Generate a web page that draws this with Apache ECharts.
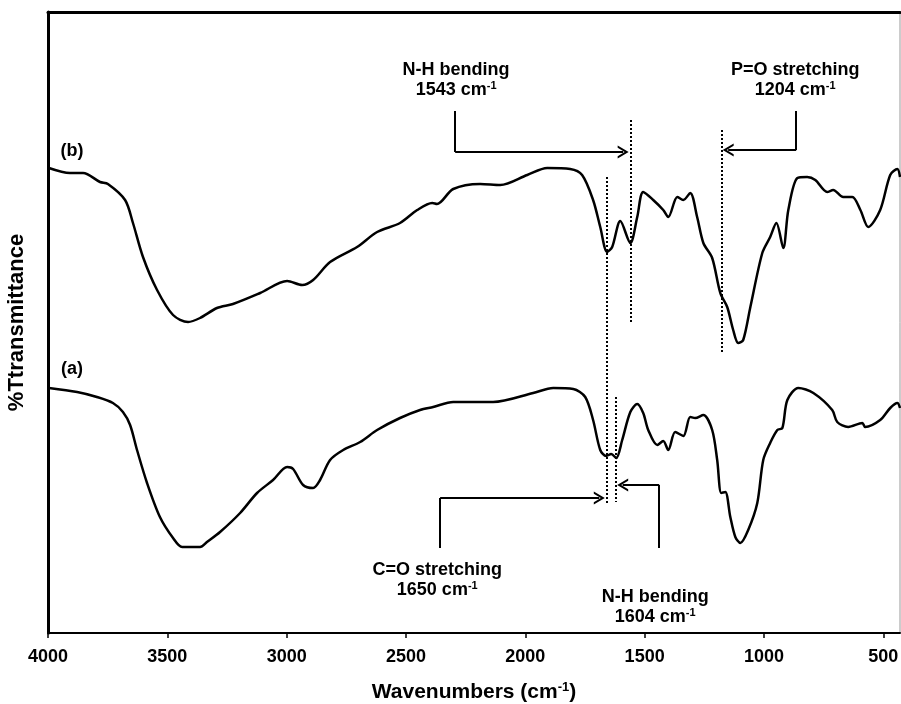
<!DOCTYPE html>
<html><head><meta charset="utf-8">
<script src="https://cdn.jsdelivr.net/npm/echarts@6/dist/echarts.min.js"></script>
<style>html,body{margin:0;padding:0;background:#fff;overflow:hidden;width:901px;height:704px}#c{width:901px;height:704px;position:absolute;left:0;top:0}</style>
</head><body><div id="c"></div>
<script>
// ---- data (arbitrary transmittance units) ----
const wavenumbersB = [3996,3908,3853,3782,3749,3677,3644,3602,3543,3476,3413,3363,3292,3225,3111,2998,2935,2889,2818,2705,2621,2525,2453,2390,2370,2302,2189,2105,1992,1908,1812,1762,1716,1686,1657,1636,1602,1560,1531,1506,1464,1422,1401,1363,1338,1309,1280,1254,1217,1183,1154,1129,1108,1087,1057,1007,974,948,919,898,860,819,785,735,710,668,630,596,563,513,471,441,430];
const transB = [465,460,460,451,449,433,410,376,343,318,311,315,325,329,340,352,348,353,371,386,401,410,423,430,429,444,449,448,458,465,464,458,433,406,381,386,412,390,416,441,433,423,416,436,433,440,416,390,375,340,326,303,290,293,326,380,396,410,385,423,455,456,453,441,443,436,436,423,406,423,458,464,456];
const wavenumbersA = [3996,3878,3795,3728,3686,3656,3627,3585,3531,3476,3438,3363,3334,3279,3195,3124,3057,2998,2973,2931,2889,2860,2818,2763,2692,2621,2525,2441,2386,2302,2135,1967,1883,1799,1749,1716,1686,1661,1640,1619,1594,1560,1531,1506,1485,1447,1422,1401,1372,1338,1309,1288,1254,1217,1196,1179,1162,1141,1120,1099,1066,1028,1003,974,944,923,902,856,793,714,693,647,588,576,513,471,441,430];
const transA = [245,241,236,230,221,208,183,150,116,95,86,86,91,101,120,140,153,166,164,148,145,153,173,183,191,203,215,223,226,231,231,240,245,244,236,213,183,177,179,175,193,221,229,220,203,188,192,183,201,197,216,215,218,203,173,140,141,116,96,90,103,130,173,190,203,205,233,245,240,223,211,206,210,206,213,225,230,225];
const xTicks = [4000,3500,3000,2500,2000,1500,1000,500];
const xTickLabels = ['4000','3500','3000','2500','2000','1500','1000','500'];
const seriesNames = ['(a)','(b)'];
// dotted marker lines: wavenumber where drawn
const peakLineX = [1657, 1560, 1176, 1619];
const annoTitles = ['N-H bending','P=O stretching','C=O stretching','N-H bending'];
const annoWaves = ['1543','1204','1650','1604'];

// ---- layout / annotation geometry ----
const peakLineSpan = [[456,128],[513,311],[503,280],[236,131]];
const annoTextPos = [[2290,553],[869,553],[2369,53],[1456,26]];
// elbow arrows: [x0,y0] -> [x0,y1] -> [xTip,y1]
const arrows = [[2294,522,481,1590],[865,522,483,1150],[2357,85,135,1690],[1439,85,148,1592]];

const F = 'Liberation Sans, Arial, sans-serif';
const rich = {
  t:{fontSize:18,fontWeight:'bold',fontFamily:F,color:'#000',lineHeight:20},
  s:{fontSize:11,fontWeight:'bold',fontFamily:F,color:'#000',verticalAlign:'top',lineHeight:20,padding:[0,0,6,0]}
};
const chevron = 'path://M5,0 L10,10 L8.2,10 L5,3.6 L1.8,10 L0,10 Z';

const dotted = peakLineX.map((x,i)=>[{coord:[x,peakLineSpan[i][0]]},{coord:[x,peakLineSpan[i][1]]}]);
const arrowLines = [];
arrows.forEach(a=>{
  arrowLines.push([{coord:[a[0],a[1]],symbol:'none'},{coord:[a[0],a[2]],symbol:'none'}]);
  arrowLines.push([{coord:[a[0],a[2]],symbol:'none'},{coord:[a[3],a[2]],symbol:chevron,symbolSize:[13,11]}]);
});
const annoPoints = annoTextPos.map((p,i)=>({coord:p,value:i,
  label:{formatter:'{t|'+annoTitles[i]+'}\n{t|'+annoWaves[i]+' cm}{s|-1}'}}));
const namePoints = [
  {coord:[3899,264],label:{formatter:'{t|'+seriesNames[0]+'}'}},
  {coord:[3899,482],label:{formatter:'{t|'+seriesNames[1]+'}'}}
];

const chart = echarts.init(document.getElementById('c'), null, {width:901,height:704});
chart.setOption({
  animation:false,
  grid:{left:48,right:1,top:12,bottom:71,show:true,borderColor:'#999',borderWidth:1,
        containLabel:false,outerBoundsMode:'none'},
  xAxis:[{
    type:'value',inverse:true,min:430,max:4000,position:'bottom',
    axisLine:{show:true,onZero:false,lineStyle:{color:'#000',width:2}},
    axisTick:{show:true,customValues:xTicks,length:5,lineStyle:{color:'#000',width:1.5}},
    axisLabel:{customValues:xTicks,margin:15,fontSize:18,fontWeight:'bold',fontFamily:F,color:'#000',
      formatter:v=>xTickLabels[xTicks.indexOf(v)]},
    splitLine:{show:false},
    name:'{t|Wavenumbers (cm}{s|-1}{t|)}',nameLocation:'middle',nameGap:48,
    nameTextStyle:{rich:{t:{fontSize:21,fontWeight:'bold',fontFamily:F,color:'#000',lineHeight:22},
      s:{fontSize:13,fontWeight:'bold',fontFamily:F,color:'#000',verticalAlign:'top',lineHeight:22,padding:[0,0,7,0]}}}
  },{
    type:'value',inverse:true,min:430,max:4000,position:'top',
    axisLine:{show:true,onZero:false,lineStyle:{color:'#000',width:3}},
    axisTick:{show:false},axisLabel:{show:false},splitLine:{show:false}
  }],
  yAxis:{type:'value',min:0,max:621,
    axisLine:{show:true,lineStyle:{color:'#000',width:3}},axisTick:{show:false},axisLabel:{show:false},splitLine:{show:false},
    name:'%Ttransmittance',nameLocation:'middle',nameGap:20,nameRotate:90,
    nameTextStyle:{fontSize:22,fontWeight:'bold',fontFamily:F,color:'#000'}},
  series:[
    {name:seriesNames[0],type:'line',xAxisIndex:0,showSymbol:false,smooth:0.3,
     data:wavenumbersA.map((w,i)=>[w,transA[i]]),lineStyle:{color:'#000',width:2.5},
     markLine:{silent:true,symbol:['none','none'],label:{show:false},animation:false,
       lineStyle:{color:'#000',width:2,type:'solid'},data:arrowLines},
     markPoint:{silent:true,symbol:'circle',symbolSize:1,itemStyle:{color:'rgba(0,0,0,0)'},
       label:{show:true,position:'inside',rich:rich},data:annoPoints.concat(namePoints)}},
    {name:seriesNames[1],type:'line',xAxisIndex:0,showSymbol:false,smooth:0.3,
     data:wavenumbersB.map((w,i)=>[w,transB[i]]),lineStyle:{color:'#000',width:2.5},
     markLine:{silent:true,symbol:['none','none'],label:{show:false},animation:false,
       lineStyle:{color:'#000',width:2,type:[2,2]},data:dotted}}
  ]
});
</script></body></html>
